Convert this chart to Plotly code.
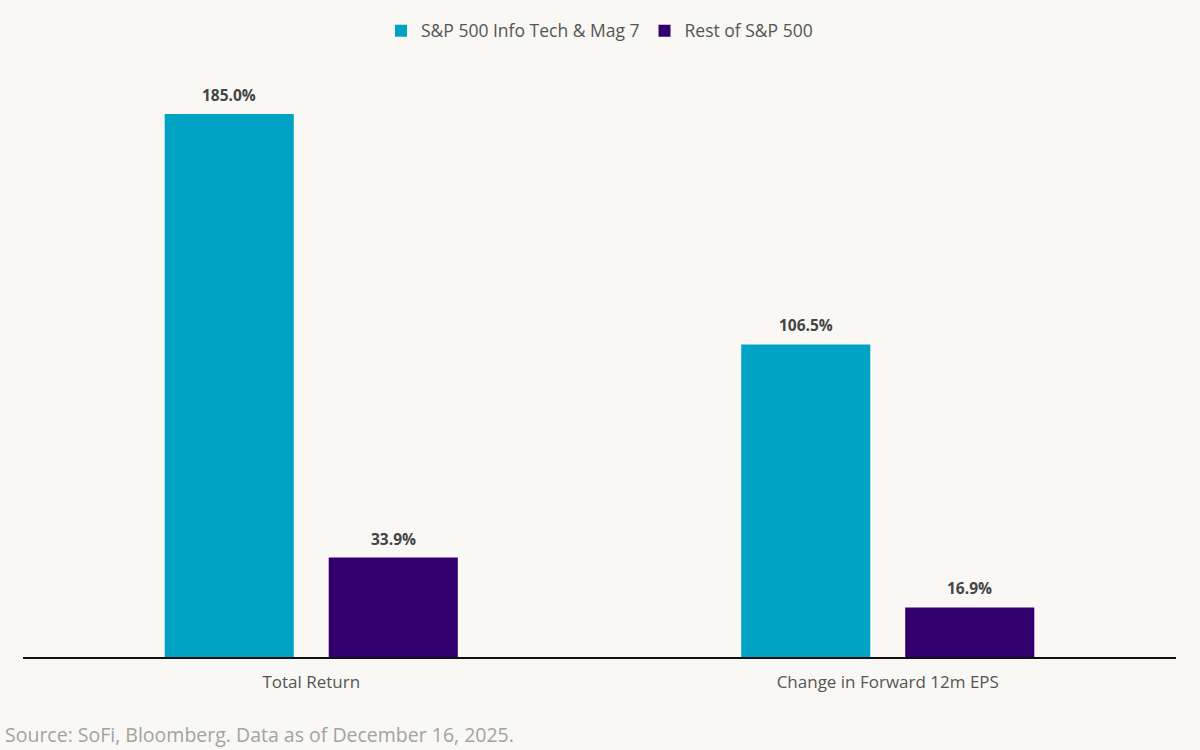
import plotly.graph_objects as go

categories = ["Total Return", "Change in Forward 12m EPS"]
series_names = ["S&P 500 Info Tech & Mag 7", "Rest of S&P 500"]
tech_values = [185.0, 106.5]
rest_values = [33.9, 16.9]
colors = ["#00A3C4", "#32006E"]

FONT = "Open Sans"
bg = "#F9F8F4"
fig = go.Figure()
for name, vals, col in zip(series_names, [tech_values, rest_values], colors):
    fig.add_trace(go.Bar(
        x=categories, y=vals, name=name, marker=dict(color=col, line=dict(width=0)),
    ))

annotations = []
for vals, shift in zip([tech_values, rest_values], [-82, 82]):
    for c, v in zip(categories, vals):
        annotations.append(dict(x=c, y=v, xref="x", yref="y", text=f"<b>{v:.1f}%</b>",
                                showarrow=False, xshift=shift, yshift=19, yanchor="middle",
                                font=dict(family=FONT, size=15.5, color="#444444")))
annotations.append(dict(text="Source: SoFi, Bloomberg. Data as of December 16, 2025.",
                        xref="paper", yref="paper", x=-0.0175, y=0, yshift=-93, xanchor="left",
                        yanchor="bottom", showarrow=False,
                        font=dict(family=FONT, size=19.5, color="#A3A3A3")))

fig.update_layout(
    width=1200, height=750, paper_bgcolor=bg, plot_bgcolor=bg,
    barmode="group", bargap=0.431, bargroupgap=0.213,
    margin=dict(l=23, r=24, t=70, b=93),
    font=dict(family=FONT, color="#555555"),
    legend=dict(orientation="h", x=0.5, xanchor="center", y=0.983, yanchor="top",
                yref="container", font=dict(size=17.5, color="#555555"), traceorder="normal",
                itemwidth=30),
    xaxis=dict(showline=True, linecolor="#111111", linewidth=2, ticks="outside",
               ticklen=9, tickcolor="rgba(0,0,0,0)",
               tickfont=dict(size=17, color="#555555"), showgrid=False),
    yaxis=dict(range=[0, 200], visible=False, showgrid=False, zeroline=False),
    annotations=annotations,
)
fig.write_html("out.html", config={"displayModeBar": False},
               post_script="document.body.style.margin='0';")
